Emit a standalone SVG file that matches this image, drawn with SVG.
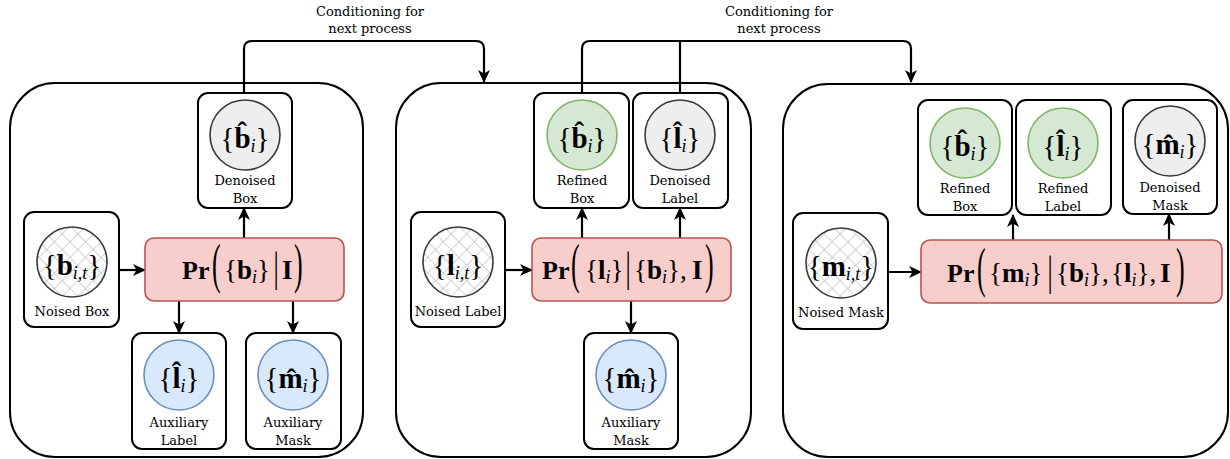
<svg xmlns="http://www.w3.org/2000/svg" width="1230" height="459" viewBox="0 0 1230 459">
<style>
.panel{fill:#fff;stroke:#000;stroke-width:2}
.box{fill:#fff;stroke:#000;stroke-width:2}
.pr{fill:#f8cecc;stroke:#b85450;stroke-width:1.6}
.gray{fill:#eeeeee;stroke:#36393d;stroke-width:1.6}
.green{fill:#d5e8d4;stroke:#82b366;stroke-width:1.6}
.blue{fill:#dae8fc;stroke:#6c8ebf;stroke-width:1.6}
.hatch{fill:url(#hatch);stroke:#36393d;stroke-width:1.6}
.lbl{font-family:"DejaVu Serif",serif;font-size:13px;text-anchor:middle;fill:#000}
.m{font-family:"Liberation Serif",serif;font-size:27px;fill:#000}
.mc{font-family:"Liberation Serif",serif;font-size:29px;fill:#000;text-anchor:middle}
.b{font-weight:bold}
.s{font-style:italic;font-size:18px}
.pw{font-family:"Liberation Serif",serif;font-size:26px;font-weight:bold;fill:#000}
.big{font-family:"Liberation Serif",serif;font-size:26px;fill:#000}
.con{fill:none;stroke:#000;stroke-width:2.2}
</style>
<defs>
<pattern id="hatch" width="11" height="11" patternUnits="userSpaceOnUse" patternTransform="rotate(45)">
<rect width="11" height="11" fill="#fff"/>
<path d="M0,0 H11 M0,0 V11" stroke="#aaaaaa" stroke-width="1"/>
</pattern>
<marker id="ah" viewBox="0 0 13 12" refX="12" refY="6" markerWidth="13" markerHeight="12" markerUnits="userSpaceOnUse" orient="auto">
<path d="M0,0 L13,6 L0,12 L3.5,6 z" fill="#000"/>
</marker>
</defs>

<g id="captions">
<text class="lbl" x="370" y="16">Conditioning for</text>
<text class="lbl" x="370" y="33">next process</text>
<text class="lbl" x="779" y="16">Conditioning for</text>
<text class="lbl" x="779" y="33">next process</text>
</g>

<g id="panel1"><rect class="panel" x="10" y="83" width="353" height="374" rx="45"/></g>
<g id="panel2"><rect class="panel" x="396" y="83" width="355" height="374" rx="45"/></g>
<g id="panel3"><rect class="panel" x="783" y="84" width="445" height="373" rx="45"/></g>

<g id="connectors">
<path class="con" d="M244,93 V49 Q244,41 252,41 H476 Q484,41 484,49 V82" marker-end="url(#ah)"/>
<path class="con" d="M582,93 V49 Q582,41 590,41 H903 Q911,41 911,49 V82" marker-end="url(#ah)"/>
<path class="con" d="M680,93 V41"/>
<path class="con" d="M119,270 H145" marker-end="url(#ah)"/>
<path class="con" d="M244,238 V208" marker-end="url(#ah)"/>
<path class="con" d="M179,301 V333" marker-end="url(#ah)"/>
<path class="con" d="M293,301 V333" marker-end="url(#ah)"/>
<path class="con" d="M505,270 H532" marker-end="url(#ah)"/>
<path class="con" d="M582,238 V208" marker-end="url(#ah)"/>
<path class="con" d="M680,238 V208" marker-end="url(#ah)"/>
<path class="con" d="M631,301 V333" marker-end="url(#ah)"/>
<path class="con" d="M888,272 H921" marker-end="url(#ah)"/>
<path class="con" d="M1013,240 V215" marker-end="url(#ah)"/>
<path class="con" d="M1169,240 V214" marker-end="url(#ah)"/>
</g>

<!-- Panel 1 nodes -->
<g id="p1-denoised-box">
<rect class="box" x="198" y="93" width="94" height="115" rx="10"/>
<circle class="gray" cx="245" cy="135" r="35"/>
<text class="mc" x="245" y="148">{<tspan class="b">b̂</tspan><tspan class="s" dy="4">i</tspan><tspan dy="-4">}</tspan></text>
<text class="lbl" x="245" y="185">Denoised</text>
<text class="lbl" x="245" y="203">Box</text>
</g>
<g id="p1-noised-box">
<rect class="box" x="24" y="212" width="95" height="115" rx="10"/>
<circle class="hatch" cx="72" cy="262" r="35"/>
<text class="mc" x="72" y="275">{<tspan class="b">b</tspan><tspan class="s" dy="4">i,t</tspan><tspan dy="-4">}</tspan></text>
<text class="lbl" x="72" y="316">Noised Box</text>
</g>
<g id="p1-pr">
<rect class="pr" x="145" y="238" width="199" height="63" rx="9"/>
<text class="pw" x="182" y="279">Pr</text>
<text class="big" transform="translate(212,282) scale(1,2.1)">(</text>
<text class="m" x="224" y="279">{<tspan class="b">b</tspan><tspan class="s" dy="4">i</tspan><tspan dy="-4">}</tspan></text>
<text class="big" text-anchor="middle" transform="translate(276,281) scale(1,1.65)">|</text>
<text class="m b" x="282" y="279">I</text>
<text class="big" transform="translate(294,282) scale(1,2.1)">)</text>
</g>
<g id="p1-aux-label">
<rect class="box" x="132" y="333" width="94" height="116" rx="10"/>
<circle class="blue" cx="179" cy="375" r="35"/>
<text class="mc" x="179" y="388">{<tspan class="b">l̂</tspan><tspan class="s" dy="4">i</tspan><tspan dy="-4">}</tspan></text>
<text class="lbl" x="179" y="427">Auxiliary</text>
<text class="lbl" x="179" y="445">Label</text>
</g>
<g id="p1-aux-mask">
<rect class="box" x="246" y="333" width="95" height="116" rx="10"/>
<circle class="blue" cx="293" cy="375" r="35"/>
<text class="mc" x="293" y="388">{<tspan class="b">m̂</tspan><tspan class="s" dy="4">i</tspan><tspan dy="-4">}</tspan></text>
<text class="lbl" x="293" y="427">Auxiliary</text>
<text class="lbl" x="293" y="445">Mask</text>
</g>

<!-- Panel 2 nodes -->
<g id="p2-refined-box">
<rect class="box" x="534" y="93" width="95" height="115" rx="10"/>
<circle class="green" cx="582" cy="135" r="35"/>
<text class="mc" x="582" y="148">{<tspan class="b">b̂</tspan><tspan class="s" dy="4">i</tspan><tspan dy="-4">}</tspan></text>
<text class="lbl" x="582" y="185">Refined</text>
<text class="lbl" x="582" y="203">Box</text>
</g>
<g id="p2-denoised-label">
<rect class="box" x="633" y="93" width="95" height="115" rx="10"/>
<circle class="gray" cx="680" cy="135" r="35"/>
<text class="mc" x="680" y="148">{<tspan class="b">l̂</tspan><tspan class="s" dy="4">i</tspan><tspan dy="-4">}</tspan></text>
<text class="lbl" x="680" y="185">Denoised</text>
<text class="lbl" x="680" y="203">Label</text>
</g>
<g id="p2-noised-label">
<rect class="box" x="411" y="212" width="94" height="115" rx="10"/>
<circle class="hatch" cx="458" cy="262" r="35"/>
<text class="mc" x="458" y="275">{<tspan class="b">l</tspan><tspan class="s" dy="4">i,t</tspan><tspan dy="-4">}</tspan></text>
<text class="lbl" x="458" y="316">Noised Label</text>
</g>
<g id="p2-pr">
<rect class="pr" x="532" y="238" width="199" height="63" rx="9"/>
<text class="pw" x="542" y="279">Pr</text>
<text class="big" transform="translate(571,282) scale(1,2.1)">(</text>
<text class="m" x="585" y="279">{<tspan class="b">l</tspan><tspan class="s" dy="4">i</tspan><tspan dy="-4">}</tspan></text>
<text class="big" text-anchor="middle" transform="translate(628,281) scale(1,1.65)">|</text>
<text class="m" x="634" y="279">{<tspan class="b">b</tspan><tspan class="s" dy="4">i</tspan><tspan dy="-4">},</tspan></text>
<text class="m b" x="692" y="279">I</text>
<text class="big" transform="translate(705,282) scale(1,2.1)">)</text>
</g>
<g id="p2-aux-mask">
<rect class="box" x="584" y="333" width="94" height="116" rx="10"/>
<circle class="blue" cx="631" cy="375" r="35"/>
<text class="mc" x="631" y="388">{<tspan class="b">m̂</tspan><tspan class="s" dy="4">i</tspan><tspan dy="-4">}</tspan></text>
<text class="lbl" x="631" y="427">Auxiliary</text>
<text class="lbl" x="631" y="445">Mask</text>
</g>

<!-- Panel 3 nodes -->
<g id="p3-refined-box">
<rect class="box" x="918" y="100" width="94" height="115" rx="10"/>
<circle class="green" cx="965" cy="143" r="35"/>
<text class="mc" x="965" y="156">{<tspan class="b">b̂</tspan><tspan class="s" dy="4">i</tspan><tspan dy="-4">}</tspan></text>
<text class="lbl" x="965" y="193">Refined</text>
<text class="lbl" x="965" y="211">Box</text>
</g>
<g id="p3-refined-label">
<rect class="box" x="1016" y="100" width="95" height="115" rx="10"/>
<circle class="green" cx="1063" cy="143" r="35"/>
<text class="mc" x="1063" y="156">{<tspan class="b">l̂</tspan><tspan class="s" dy="4">i</tspan><tspan dy="-4">}</tspan></text>
<text class="lbl" x="1063" y="193">Refined</text>
<text class="lbl" x="1063" y="211">Label</text>
</g>
<g id="p3-denoised-mask">
<rect class="box" x="1123" y="100" width="94" height="114" rx="10"/>
<circle class="gray" cx="1170" cy="141" r="35"/>
<text class="mc" x="1170" y="154">{<tspan class="b">m̂</tspan><tspan class="s" dy="4">i</tspan><tspan dy="-4">}</tspan></text>
<text class="lbl" x="1170" y="192">Denoised</text>
<text class="lbl" x="1170" y="210">Mask</text>
</g>
<g id="p3-noised-mask">
<rect class="box" x="793" y="213" width="95" height="116" rx="10"/>
<circle class="hatch" cx="841" cy="263" r="35"/>
<text class="mc" x="841" y="276">{<tspan class="b">m</tspan><tspan class="s" dy="4">i,t</tspan><tspan dy="-4">}</tspan></text>
<text class="lbl" x="841" y="317">Noised Mask</text>
</g>
<g id="p3-pr">
<rect class="pr" x="921" y="240" width="301" height="63" rx="9"/>
<text class="pw" x="947" y="282">Pr</text>
<text class="big" transform="translate(977,286) scale(1,2.1)">(</text>
<text class="m" x="989" y="282">{<tspan class="b">m</tspan><tspan class="s" dy="4">i</tspan><tspan dy="-4">}</tspan></text>
<text class="big" text-anchor="middle" transform="translate(1050,285) scale(1,1.65)">|</text>
<text class="m" x="1056" y="282">{<tspan class="b">b</tspan><tspan class="s" dy="4">i</tspan><tspan dy="-4">},</tspan></text>
<text class="m" x="1111" y="282">{<tspan class="b">l</tspan><tspan class="s" dy="4">i</tspan><tspan dy="-4">},</tspan></text>
<text class="m b" x="1160" y="282">I</text>
<text class="big" transform="translate(1176,286) scale(1,2.1)">)</text>
</g>
</svg>
